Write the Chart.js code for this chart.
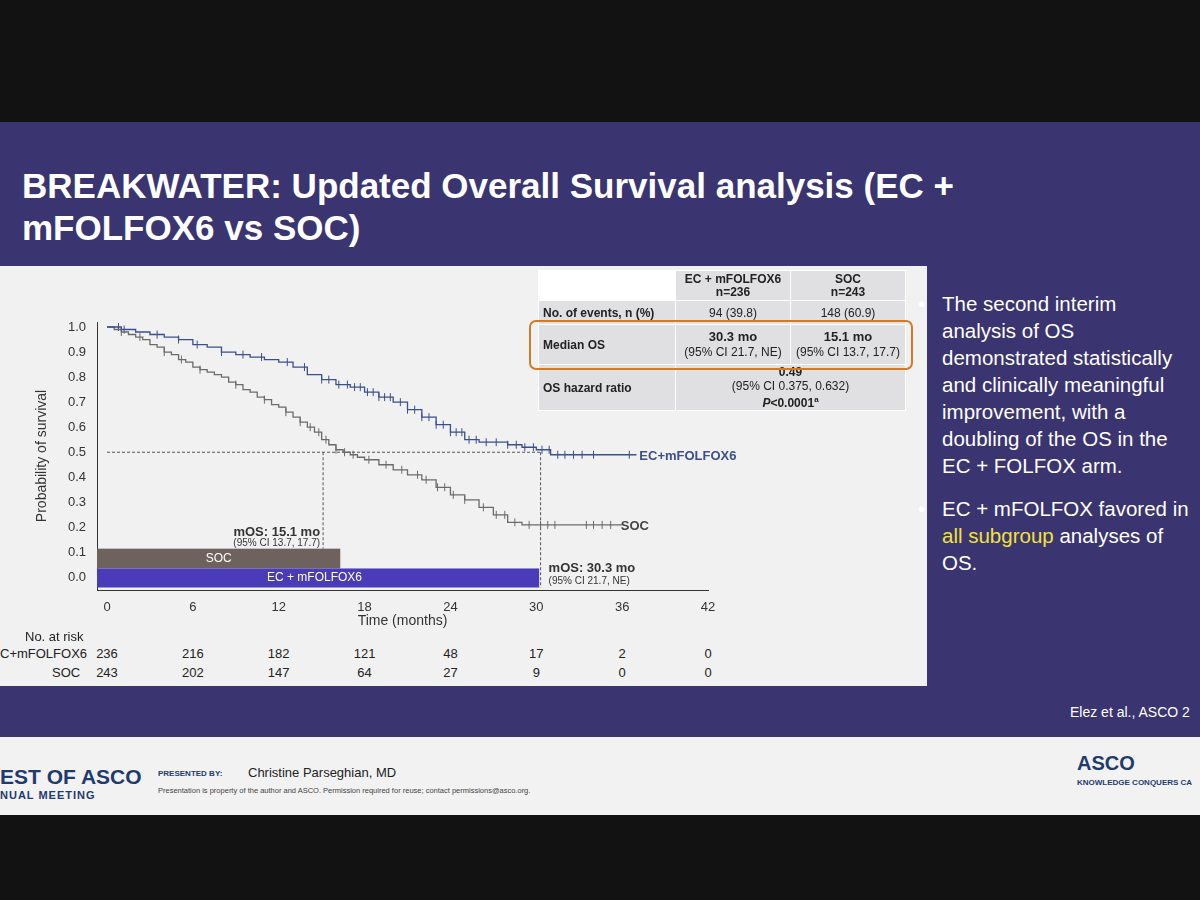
<!DOCTYPE html>
<html><head><meta charset="utf-8">
<script src="https://cdn.jsdelivr.net/npm/chart.js@4.4.1/dist/chart.umd.min.js"></script>
<style>
body{margin:0;width:1200px;height:900px;overflow:hidden;background:#121212;font-family:"Liberation Sans",Arial,sans-serif;position:relative}
.abs{position:absolute}
#slide{left:0;top:122px;width:1200px;height:615px;background:#3a3470}
#title{left:22px;top:165px;color:#fff;font-weight:bold;font-size:35px;line-height:42px}
#panel{left:0;top:266px;width:927px;height:420px;background:#f1f1f1}
#tbl{left:538px;top:270px;border-collapse:collapse;font-size:12px;color:#222}
#tbl td{border:1px solid #fff;padding:0 4px;text-align:center;background:#e0e0e2}
#tbl td.l{text-align:left;font-weight:bold}
#box{left:529px;top:320px;width:380px;height:46px;border:2px solid #d47a22;border-radius:7px}
.risk{font-size:13px;color:#222}
#right{left:918px;top:290px;color:#fff;font-size:20.5px;line-height:27px;width:275px}
#right .t{width:250px}
#footer{left:0;top:737px;width:1200px;height:78px;background:#f2f2f2}
</style></head><body>
<div id="slide" class="abs"></div>
<div id="title" class="abs">BREAKWATER: Updated Overall Survival analysis (EC +<br>mFOLFOX6 vs SOC)</div>
<div id="panel" class="abs"></div>
<div class="abs" style="left:30px;top:280px;width:730px;height:350px"><canvas id="km"></canvas></div>
<table id="tbl" class="abs">
<tr style="height:30px"><td style="width:128px;background:#fff"></td><td style="width:106px;font-weight:bold;line-height:13px">EC + mFOLFOX6<br>n=236</td><td style="width:106px;font-weight:bold;line-height:13px">SOC<br>n=243</td></tr>
<tr style="height:24px"><td class="l">No. of events, n (%)</td><td>94 (39.8)</td><td>148 (60.9)</td></tr>
<tr style="height:40px"><td class="l">Median OS</td><td style="line-height:15px"><b style="font-size:13px">30.3 mo</b><br>(95% CI 21.7, NE)</td><td style="line-height:15px"><b style="font-size:13px">15.1 mo</b><br>(95% CI 13.7, 17.7)</td></tr>
<tr style="height:46px"><td class="l">OS hazard ratio</td><td colspan="2" style="line-height:14px"><b>0.49</b><br>(95% CI 0.375, 0.632)<br><b><i>P</i>&lt;0.0001<sup style="font-size:8px">a</sup></b></td></tr>
</table>
<div id="box" class="abs"></div>
<div class="abs risk" style="left:25px;top:629px">No. at risk</div>
<div class="abs risk" style="left:0;top:646px">C+mFOLFOX6</div>
<div class="abs risk" style="left:52px;top:665px">SOC</div>
<div id="risk1"></div>
<div id="right" class="abs">
<div style="display:flex"><span style="width:24px;flex:none">•</span><span class="t">The second interim analysis of OS demonstrated statistically and clinically meaningful improvement, with a doubling of the OS in the EC + FOLFOX arm.</span></div>
<div style="display:flex;margin-top:16px"><span style="width:24px;flex:none">•</span><span class="t">EC + mFOLFOX favored in <span style="color:#f2e13c">all subgroup</span> analyses of OS.</span></div>
</div>
<div class="abs" style="left:1070px;top:704px;color:#fff;font-size:14px">Elez et al., ASCO 2</div>
<div id="footer" class="abs"></div>
<div class="abs" style="left:0;top:765px;font-size:21px;font-weight:bold;color:#1f3b6e">EST OF ASCO</div>
<div class="abs" style="left:0;top:789px;font-size:11px;font-weight:bold;color:#1f3b6e;letter-spacing:1px">NUAL MEETING</div>
<div class="abs" style="left:158px;top:769px;font-size:8px;font-weight:bold;color:#1f3b6e">PRESENTED BY:</div>
<div class="abs" style="left:248px;top:765px;font-size:13px;color:#222">Christine Parseghian, MD</div>
<div class="abs" style="left:158px;top:786px;font-size:7.5px;color:#444">Presentation is property of the author and ASCO. Permission required for reuse; contact permissions@asco.org.</div>
<div class="abs" style="left:1077px;top:752px;font-size:20px;font-weight:bold;color:#1f3b6e">ASCO</div>
<div class="abs" style="left:1077px;top:778px;font-size:8px;font-weight:bold;color:#1f3b6e">KNOWLEDGE CONQUERS CA</div>
<script>
const xTicks = [0, 6, 12, 18, 24, 30, 36, 42];
const riskEC = [236, 216, 182, 121, 48, 17, 2, 0];
const riskSOC = [243, 202, 147, 64, 27, 9, 0, 0];
const ecTime = [0, 1, 2, 3, 4, 5, 6, 7, 8, 9, 10, 11, 12, 13, 14, 15, 16, 17, 18, 19, 20, 21, 22, 23, 24, 25, 26, 27, 28, 29, 30, 31, 37];
const ecSurv = [1.0, 0.99, 0.98, 0.97, 0.96, 0.95, 0.93, 0.92, 0.90, 0.89, 0.88, 0.87, 0.86, 0.84, 0.81, 0.79, 0.77, 0.76, 0.74, 0.72, 0.70, 0.67, 0.64, 0.61, 0.58, 0.55, 0.54, 0.54, 0.53, 0.52, 0.51, 0.49, 0.49];
const socTime = [0, 0.5, 1, 1.5, 2, 2.5, 3, 3.5, 4, 4.5, 5, 5.5, 6, 6.5, 7, 7.5, 8, 8.5, 9, 9.5, 10, 10.5, 11, 11.5, 12, 12.5, 13, 13.5, 14, 14.5, 15, 15.5, 16, 16.5, 17, 17.5, 18, 19, 20, 21, 22, 23, 24, 25, 26, 27, 28, 29, 30, 36];
const socSurv = [1.0, 0.99, 0.98, 0.97, 0.96, 0.95, 0.93, 0.92, 0.90, 0.89, 0.87, 0.86, 0.84, 0.83, 0.82, 0.81, 0.80, 0.78, 0.77, 0.75, 0.74, 0.72, 0.71, 0.69, 0.68, 0.66, 0.64, 0.62, 0.60, 0.58, 0.55, 0.53, 0.51, 0.50, 0.49, 0.48, 0.47, 0.45, 0.43, 0.41, 0.39, 0.36, 0.33, 0.31, 0.28, 0.25, 0.22, 0.21, 0.21, 0.21];
const ecCens = [0.8, 1.2, 3.5, 5, 6.3, 8, 9.5, 10.8, 12.6, 13.8, 15, 15.5, 16.2, 16.8, 17.3, 17.7, 18.2, 18.6, 19, 19.4, 19.8, 20.5, 21, 21.5, 22, 22.5, 23, 23.5, 24, 24.4, 24.8, 25.3, 25.8, 26.5, 27.2, 28, 28.6, 29.2, 29.8, 30.4, 30.9, 31.5, 32, 32.6, 33.2, 34, 36.5];
const socCens = [1, 2.3, 4, 5.2, 6.5, 9, 11, 12.5, 13.5, 14.2, 14.8, 15.3, 16, 16.6, 17.2, 18.3, 19.5, 20.6, 21.7, 22.3, 23.1, 23.6, 24.2, 25, 26.3, 27.2, 27.8, 28.5, 29.5, 30.3, 30.8, 31.3, 33.5, 34, 34.6, 35.2];
const medians = [15.1, 30.3];
const barSOC = [-0.7, 16.3];
const barEC = [-0.7, 30.2];

function stepAt(t, times, surv) {
  let s = surv[0];
  for (let i = 0; i < times.length; i++) if (times[i] <= t) s = surv[i];
  return s;
}
const EC_COL = '#3b4f8c', SOC_COL = '#6b6b6b';

// risk table numbers
let rh = '';
xTicks.forEach((t, i) => {
  const px = 107 + t * 14.31;
  rh += `<div class="abs risk" style="left:${px - 20}px;width:40px;text-align:center;top:646px">${riskEC[i]}</div>`;
  rh += `<div class="abs risk" style="left:${px - 20}px;width:40px;text-align:center;top:665px">${riskSOC[i]}</div>`;
});
document.getElementById('risk1').innerHTML = rh;

const extras = {
  id: 'extras',
  beforeDatasetsDraw(chart) {
    const { ctx, scales: { x, y } } = chart;
    ctx.save();
    // arm duration bars
    ctx.fillStyle = '#6e625e';
    ctx.fillRect(x.getPixelForValue(barSOC[0]), y.getPixelForValue(0.115), x.getPixelForValue(barSOC[1]) - x.getPixelForValue(barSOC[0]), y.getPixelForValue(0.036) - y.getPixelForValue(0.115));
    ctx.fillStyle = '#4a3bb8';
    ctx.fillRect(x.getPixelForValue(barEC[0]), y.getPixelForValue(0.036), x.getPixelForValue(barEC[1]) - x.getPixelForValue(barEC[0]), y.getPixelForValue(-0.04) - y.getPixelForValue(0.036));
    ctx.fillStyle = '#fff';
    ctx.font = '12px "Liberation Sans", Arial';
    ctx.textAlign = 'center'; ctx.textBaseline = 'middle';
    ctx.fillText('SOC', x.getPixelForValue(7.8), y.getPixelForValue(0.075));
    ctx.fillText('EC + mFOLFOX6', x.getPixelForValue(14.5), y.getPixelForValue(-0.002));
    // dashed median lines
    ctx.strokeStyle = '#555'; ctx.lineWidth = 1; ctx.setLineDash([3, 2]);
    ctx.beginPath();
    ctx.moveTo(x.getPixelForValue(0), y.getPixelForValue(0.5));
    ctx.lineTo(x.getPixelForValue(medians[1]), y.getPixelForValue(0.5));
    ctx.moveTo(x.getPixelForValue(medians[0]), y.getPixelForValue(0.5));
    ctx.lineTo(x.getPixelForValue(medians[0]), y.getPixelForValue(0.115));
    ctx.moveTo(x.getPixelForValue(medians[1]), y.getPixelForValue(0.5));
    ctx.lineTo(x.getPixelForValue(medians[1]), y.getPixelForValue(-0.04));
    ctx.stroke();
    ctx.setLineDash([]);
    // labels
    ctx.fillStyle = '#333'; ctx.textAlign = 'right'; ctx.textBaseline = 'alphabetic';
    ctx.font = 'bold 13px "Liberation Sans", Arial';
    ctx.fillText('mOS: 15.1 mo', x.getPixelForValue(15.1) - 3, y.getPixelForValue(0.165));
    ctx.font = '10px "Liberation Sans", Arial';
    ctx.fillText('(95% CI 13.7, 17.7)', x.getPixelForValue(15.1) - 3, y.getPixelForValue(0.125));
    ctx.textAlign = 'left';
    ctx.font = 'bold 13px "Liberation Sans", Arial';
    ctx.fillText('mOS: 30.3 mo', x.getPixelForValue(30.3) + 8, y.getPixelForValue(0.02));
    ctx.font = '10px "Liberation Sans", Arial';
    ctx.fillText('(95% CI 21.7, NE)', x.getPixelForValue(30.3) + 8, y.getPixelForValue(-0.025));
    ctx.font = 'bold 13px "Liberation Sans", Arial';
    ctx.fillStyle = EC_COL;
    ctx.fillText('EC+mFOLFOX6', x.getPixelForValue(37.2), y.getPixelForValue(0.49) + 5);
    ctx.fillStyle = '#444';
    ctx.fillText('SOC', x.getPixelForValue(35.9), y.getPixelForValue(0.21) + 5);
    ctx.restore();
  }
};

new Chart(document.getElementById('km'), {
  type: 'line',
  data: {
    datasets: [
      { data: ecTime.map((t, i) => ({ x: t, y: ecSurv[i] })), borderColor: EC_COL, borderWidth: 1.3, stepped: true, pointRadius: 0 },
      { data: socTime.map((t, i) => ({ x: t, y: socSurv[i] })), borderColor: SOC_COL, borderWidth: 1.3, stepped: true, pointRadius: 0 },
      { type: 'scatter', data: ecCens.map(t => ({ x: t, y: stepAt(t, ecTime, ecSurv) })), pointStyle: 'line', rotation: 90, radius: 4, borderColor: EC_COL, borderWidth: 1 },
      { type: 'scatter', data: socCens.map(t => ({ x: t, y: stepAt(t, socTime, socSurv) })), pointStyle: 'line', rotation: 90, radius: 4, borderColor: SOC_COL, borderWidth: 1 }
    ]
  },
  options: {
    responsive: true, maintainAspectRatio: false, animation: false,
    layout: { padding: { top: 42, right: 52 } },
    plugins: { legend: { display: false }, tooltip: { enabled: false } },
    scales: {
      x: {
        type: 'linear', min: -0.7, max: 42,
        afterBuildTicks: s => { s.ticks = xTicks.map(v => ({ value: v })); },
        afterFit: s => { s.height = 40; },
        grid: { display: false, drawTicks: true },
        border: { color: '#333' },
        ticks: { color: '#333', font: { size: 13 }, padding: 2 },
        title: { display: true, text: 'Time (months)', color: '#333', font: { size: 14 }, padding: 0 }
      },
      y: {
        min: -0.05, max: 1.02,
        afterBuildTicks: s => { s.ticks = [0, .1, .2, .3, .4, .5, .6, .7, .8, .9, 1].map(v => ({ value: v })); },
        afterFit: s => { s.width = 67; },
        grid: { display: false },
        border: { color: '#333' },
        ticks: { color: '#333', font: { size: 13 }, callback: v => v.toFixed(1) },
        title: { display: true, text: 'Probability of survival', color: '#333', font: { size: 14 } }
      }
    }
  },
  plugins: [extras]
});
</script>
</body></html>
